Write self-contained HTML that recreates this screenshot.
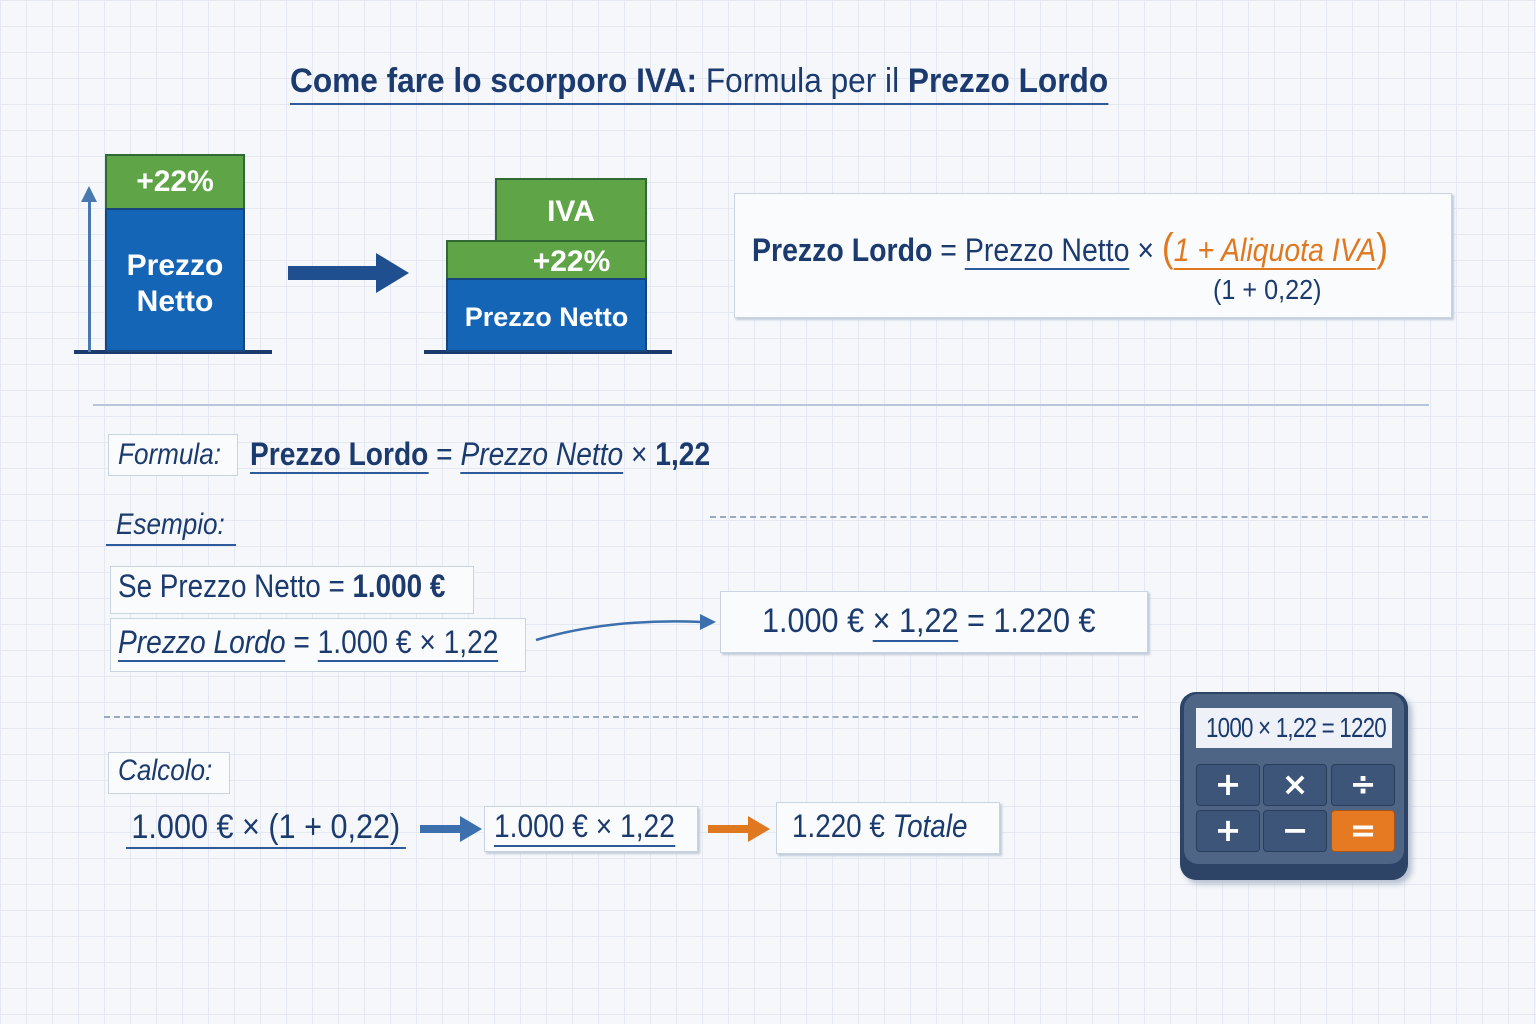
<!DOCTYPE html>
<html><head><meta charset="utf-8"><style>
body{margin:0;width:1536px;height:1024px;overflow:hidden;position:relative;font-family:"Liberation Sans",sans-serif;color:#1b3a6e;
background-color:#f5f7fb;background-image:linear-gradient(#e3e8f1 1px,transparent 1px),linear-gradient(90deg,#e3e8f1 1px,transparent 1px);background-size:26px 26px;}
.a{position:absolute;white-space:nowrap;transform-origin:0 0}
.b{font-weight:bold}
.i{font-style:italic}
.u{border-bottom:2px solid #2c5a9a;line-height:1.05}
.box{position:absolute;background:#fafbfd;border:1px solid #c9d3e2;box-shadow:2px 2px 2px #c2cbd9}
.blue{position:absolute;background:#1565b7;border:2px solid #17457c;box-sizing:border-box;color:#fff;font-weight:bold;text-align:center}
.green{position:absolute;background:#5fa547;border:2px solid #2f6a35;box-sizing:border-box;color:#fff;font-weight:bold;text-align:center}
.key{position:absolute;width:62px;height:40px;background:#3c5578;border:1px solid #2a3f5c;border-radius:4px;color:#fff;font-size:32px;font-weight:bold;text-align:center;line-height:38px;font-family:"DejaVu Sans",sans-serif}
</style></head><body>
<div class="a" style="left:290px;top:62px;font-size:34px;border-bottom:2px solid #2c5a9a;padding-bottom:2px;transform:scaleX(0.93)"><span class="b">Come fare lo scorporo IVA:</span> Formula per il <span class="b">Prezzo Lordo</span></div>

<div class="a" style="left:74px;top:350px;width:198px;height:4px;background:#1b3a6e"></div>
<div class="a" style="left:88px;top:200px;width:3px;height:152px;background:#4a79b0"></div>
<div class="a" style="left:81px;top:186px;width:0;height:0;border-left:8px solid transparent;border-right:8px solid transparent;border-bottom:16px solid #4a79b0"></div>
<div class="green" style="left:105px;top:154px;width:140px;height:56px;font-size:30px;line-height:52px">+22%</div>
<div class="blue" style="left:105px;top:208px;width:140px;height:144px;font-size:30px;line-height:36px;padding-top:38px">Prezzo<br>Netto</div>
<div class="a" style="left:288px;top:266px;width:90px;height:14px;background:#1f4f8f"></div>
<div class="a" style="left:376px;top:253px;width:0;height:0;border-top:20px solid transparent;border-bottom:20px solid transparent;border-left:33px solid #1f4f8f"></div>
<div class="a" style="left:424px;top:350px;width:248px;height:4px;background:#1b3a6e"></div>
<div class="green" style="left:495px;top:178px;width:152px;height:64px;font-size:30px;line-height:64px">IVA</div>
<div class="green" style="left:446px;top:240px;width:201px;height:40px;font-size:30px;line-height:40px;padding-left:50px">+22%</div>
<div class="blue" style="left:446px;top:278px;width:201px;height:74px;font-size:27px;line-height:74px">Prezzo Netto</div>

<div class="box" style="left:734px;top:193px;width:716px;height:123px"></div>
<div class="a" style="left:752px;top:226px;font-size:32px;transform:scaleX(0.89)"><span class="b">Prezzo Lordo</span> = <span class="u">Prezzo Netto</span> × <span style="color:#e07820"><span style="font-size:40px">(</span><span class="u i" style="border-color:#e07820">1 + Aliquota IVA</span><span style="font-size:40px">)</span></span></div>
<div class="a" style="left:1213px;top:274px;font-size:28px;transform:scaleX(0.9)">(1 + 0,22)</div>

<div class="a" style="left:93px;top:404px;width:1336px;height:2px;background:#b8c6da"></div>

<div class="box" style="left:108px;top:434px;width:128px;height:40px;box-shadow:none"></div>
<div class="a i" style="left:118px;top:438px;font-size:30px;transform:scaleX(0.87)">Formula:</div>
<div class="a" style="left:250px;top:436px;font-size:32px;transform:scaleX(0.88)"><span class="b u">Prezzo Lordo</span> = <span class="u i">Prezzo Netto</span> × <span class="b">1,22</span></div>

<div class="a" style="left:106px;top:544px;width:130px;height:2px;background:#2c5a9a"></div>
<div class="a i" style="left:116px;top:508px;font-size:30px;transform:scaleX(0.87)">Esempio:</div>
<div class="a" style="left:710px;top:516px;width:718px;border-top:2px dashed #9aa9bf"></div>
<div class="box" style="left:110px;top:566px;width:362px;height:46px;box-shadow:none"></div>
<div class="a" style="left:118px;top:568px;font-size:32px;transform:scaleX(0.87)">Se Prezzo Netto = <span class="b">1.000 €</span></div>
<div class="box" style="left:110px;top:618px;width:414px;height:52px;box-shadow:none"></div>
<div class="a" style="left:118px;top:624px;font-size:32px;transform:scaleX(0.88)"><span class="i u">Prezzo Lordo</span> = <span class="u">1.000 € × 1,22</span></div>
<svg class="a" style="left:530px;top:600px" width="190" height="50"><path d="M6 40 Q80 18 172 22" stroke="#3b6fad" stroke-width="2.5" fill="none"/><path d="M186 22 L170 14 L170 30Z" fill="#3b6fad"/></svg>
<div class="box" style="left:720px;top:591px;width:426px;height:60px"></div>
<div class="a" style="left:762px;top:602px;font-size:34px;transform:scaleX(0.9)">1.000 € <span class="u">× 1,22</span> = 1.220 €</div>

<div class="a" style="left:104px;top:716px;width:1034px;border-top:2px dashed #9aa9bf"></div>
<div class="box" style="left:108px;top:752px;width:120px;height:40px;box-shadow:none"></div>
<div class="a i" style="left:118px;top:754px;font-size:30px;transform:scaleX(0.87)">Calcolo:</div>
<div class="a" style="left:126px;top:808px;font-size:34px;border-bottom:2px solid #2c5a9a;padding:0 6px;transform:scaleX(0.9)">1.000 € × (1 + 0,22)</div>
<div class="a" style="left:420px;top:825px;width:44px;height:8px;background:#3b6fad"></div>
<div class="a" style="left:460px;top:816px;border-top:13px solid transparent;border-bottom:13px solid transparent;border-left:22px solid #3b6fad"></div>
<div class="box" style="left:484px;top:806px;width:212px;height:44px"></div>
<div class="a" style="left:494px;top:808px;font-size:32px;border-bottom:2px solid #2c5a9a;transform:scaleX(0.88)">1.000 € × 1,22</div>
<div class="a" style="left:708px;top:825px;width:44px;height:8px;background:#e07820"></div>
<div class="a" style="left:748px;top:816px;border-top:13px solid transparent;border-bottom:13px solid transparent;border-left:22px solid #e07820"></div>
<div class="box" style="left:776px;top:802px;width:222px;height:50px"></div>
<div class="a" style="left:792px;top:808px;font-size:32px;transform:scaleX(0.87)">1.220 € <span class="i">Totale</span></div>

<div class="a" style="left:1180px;top:692px;width:228px;height:188px;background:#2d4466;border-radius:16px;box-shadow:4px 4px 6px #b5bfcf"></div>
<div class="a" style="left:1184px;top:694px;width:220px;height:170px;background:#4f6585;border-radius:14px"></div>
<div class="a" style="left:1196px;top:708px;width:196px;height:40px;background:#eef2f8"></div>
<div class="a" style="left:1206px;top:712px;font-size:28px;line-height:32px;letter-spacing:-1px;transform:scaleX(0.8)">1000 × 1,22 = 1220</div>
<div class="key" style="left:1196px;top:764px">+</div>
<div class="key" style="left:1263px;top:764px">×</div>
<div class="key" style="left:1331px;top:764px">÷</div>
<div class="key" style="left:1196px;top:810px">+</div>
<div class="key" style="left:1263px;top:810px">−</div>
<div class="key" style="left:1331px;top:810px;background:#e57a22;border-color:#a85416">=</div>
</body></html>
